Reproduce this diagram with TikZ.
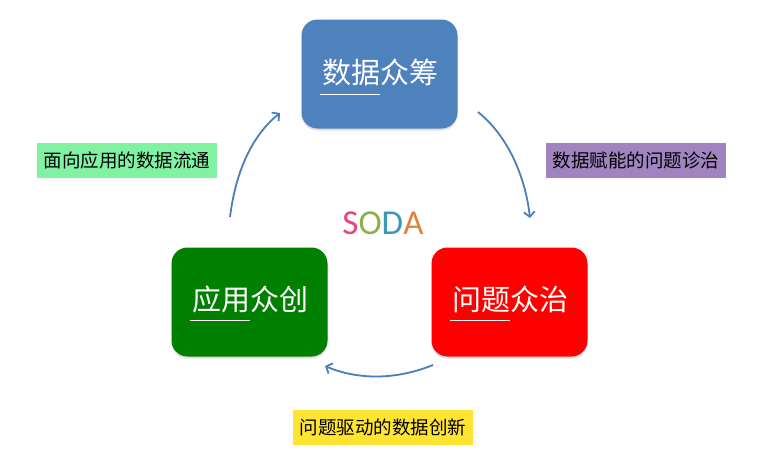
\documentclass[tikz,border=0pt]{standalone}
\usepackage{fontspec}
\newfontfamily\cjk{Noto Sans CJK SC}
\newfontfamily\sodafont{Carlito}
\usetikzlibrary{arrows.meta,shadows,calc}
\definecolor{boxblue}{RGB}{79,129,189}
\definecolor{boxgreen}{RGB}{0,128,0}
\definecolor{boxred}{RGB}{255,0,0}
\definecolor{lblgreen}{RGB}{128,242,162}
\definecolor{lblpurple}{RGB}{161,131,192}
\definecolor{lblyellow}{RGB}{255,228,50}
\definecolor{arrowblue}{RGB}{74,126,187}
\definecolor{sodaS}{RGB}{232,70,122}
\definecolor{sodaO}{RGB}{138,176,74}
\definecolor{sodaD}{RGB}{58,152,184}
\definecolor{sodaA}{RGB}{224,132,58}
\tikzset{
  mainbox/.style={rounded corners=16pt, minimum width=156pt, minimum height=109pt,
    inner sep=0pt, drop shadow={shadow xshift=0pt, shadow yshift=-2pt, opacity=0.25}},
  boxtext/.style={text=white, font=\cjk\fontsize{29}{29}\selectfont, inner sep=0pt},
  uline/.style={draw=white, line width=1.8pt},
  lbl/.style={minimum width=180pt, minimum height=35pt, inner sep=0pt,
    font=\cjk\fontsize{18.5}{18.5}\selectfont, text=black},
  cyc/.style={draw=arrowblue, line width=1.8pt,
    -{Straight Barb[length=5pt,width=11pt]}}
}
\begin{document}
\begin{tikzpicture}[x=1pt,y=-1pt]
\useasboundingbox[fill=white] (0,0) rectangle (768,464);

% main boxes
\node[mainbox, fill=boxblue] (bbox) at (379.5,74) {};
\node[mainbox, fill=boxgreen] (gbox) at (249.5,302) {};
\node[mainbox, fill=boxred] (rbox) at (509.5,302) {};

\node[boxtext] (btext) at (380,72.5) {数据众筹};
\node[boxtext] (gtext) at (250,299.5) {应用众创};
\node[boxtext] (rtext) at (510,299.5) {问题众治};

\coordinate (bu1) at ($(btext.center)+(-60,22)$);
\coordinate (bu2) at ($(btext.center)+(0,22)$);
\coordinate (gu1) at ($(gtext.center)+(-60,21)$);
\coordinate (gu2) at ($(gtext.center)+(0,21)$);
\coordinate (ru1) at ($(rtext.center)+(-60,21)$);
\coordinate (ru2) at ($(rtext.center)+(0,21)$);
\draw[uline] (bu1) -- (bu2);
\draw[uline] (gu1) -- (gu2);
\draw[uline] (ru1) -- (ru2);

% SODA
\node[inner sep=0pt, font=\sodafont\fontsize{35}{35}\selectfont] (soda) at (383,223)
  {\textcolor{sodaS}{S}\textcolor{sodaO}{O}\textcolor{sodaD}{D}\textcolor{sodaA}{A}};

% labels
\node[lbl, fill=lblgreen] (lg) at (127,160) {面向应用的数据流通};
\node[lbl, fill=lblpurple] (lp) at (636,160.5) {数据赋能的问题诊治};
\node[lbl, fill=lblyellow] (ly) at (383,427.5) {问题驱动的数据创新};

% cycle arrows
\coordinate (a1s) at (478,112);
\coordinate (a1e) at (530,218);
\coordinate (a2s) at (433,365);
\coordinate (a2e) at (325,366);
\coordinate (a3s) at (230,217);
\coordinate (a3e) at (280,113);
\draw[cyc] (a1s) .. controls (509,137) and (525.5,178) .. (a1e);
\draw[cyc] (a2s) .. controls (396,380) and (358,380) .. (a2e);
\draw[cyc] (a3s) .. controls (235,177) and (249,138) .. (a3e);
\end{tikzpicture}
\end{document}
